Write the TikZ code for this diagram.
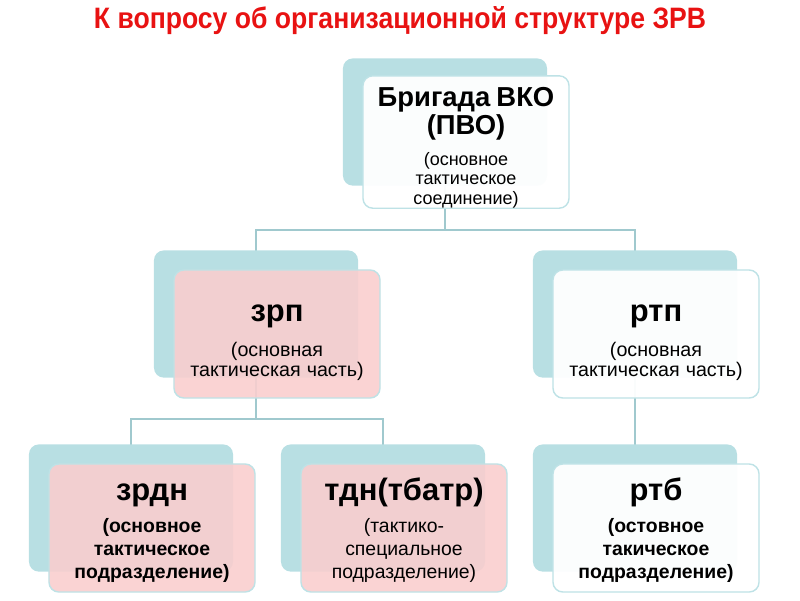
\documentclass[tikz,border=0pt]{standalone}
\usepackage{fontspec}
\setmainfont{Liberation Sans}
\newfontfamily\titlefont[FakeStretch=0.9]{Liberation Sans}
\definecolor{orgTeal}{RGB}{184,223,227}
\definecolor{orgEdge}{RGB}{190,226,230}
\definecolor{orgPink}{RGB}{249,206,206}
\definecolor{orgLine}{RGB}{160,201,206}
\definecolor{orgRed}{RGB}{232,18,18}
\usepackage{tikz}
\usetikzlibrary{positioning,calc,backgrounds}

\begin{document}
\begin{tikzpicture}[x=0.025cm, y=-0.025cm,
    every node/.style={font=\fontsize{13}{14}\selectfont},
    backbox/.style={fill=orgTeal, rounded corners=7pt, minimum width=5.1cm, minimum height=3.18cm, inner sep=0pt},
    unitbox/.style={draw=orgEdge, line width=1pt, fill opacity=0.9, text opacity=1, rounded corners=7pt,
      minimum width=5.15cm, minimum height=3.2cm, text width=5.1cm, align=center, inner sep=0pt},
    conn/.style={draw=orgLine, line width=1.2pt}]
  \useasboundingbox (0,0) rectangle (800,600);
  % Title
  \node[text=orgRed, font=\titlefont\bfseries\fontsize{21}{24}\selectfont] (title) at (400,21)
    {К вопросу об организационной структуре ЗРВ};
  % Brigade
  \node[backbox] (bkobg) at (445,122) {};
  \node[unitbox, fill=white, fill opacity=0.95] (bko) at (466,142)
    {\fontsize{19.5}{19.5}\selectfont\bfseries\rule{0pt}{22pt}Бригада ВКО\\(ПВО)\par\vspace{8pt}
     \fontsize{12.8}{14}\selectfont\mdseries (основное\\тактическое\\соединение)\par};
  % Regiments
  \node[backbox] (zrpbg) at (256,314) {};
  \node[unitbox, fill=orgPink] (zrp) at (277,334)
    {\fontsize{22}{24}\selectfont\bfseries\rule{0pt}{24pt}зрп\par\vspace{9pt}
     \fontsize{14}{14.5}\selectfont\mdseries (основная\\тактическая часть)\par};
  \node[backbox] (rtpbg) at (635,314) {};
  \node[unitbox, fill=white, fill opacity=0.95] (rtp) at (656,334)
    {\fontsize{22}{24}\selectfont\bfseries\rule{0pt}{24pt}ртп\par\vspace{9pt}
     \fontsize{14}{14.5}\selectfont\mdseries (основная\\тактическая часть)\par};
  % Battalions
  \node[backbox] (zrdnbg) at (131,508) {};
  \node[unitbox, fill=orgPink] (zrdn) at (152,528)
    {\fontsize{22}{24}\selectfont\bfseries\rule{0pt}{19pt}зрдн\par\vspace{7pt}
     \fontsize{13.8}{16.3}\selectfont (основное\\тактическое\\подразделение)\par};
  \node[backbox] (tdnbg) at (383,508) {};
  \node[unitbox, fill=orgPink] (tdn) at (404,528)
    {\fontsize{22}{24}\selectfont\bfseries\rule{0pt}{19pt}тдн(тбатр)\par\vspace{7pt}
     \fontsize{13.8}{16.3}\selectfont\mdseries (тактико-\\специальное\\подразделение)\par};
  \node[backbox] (rtbbg) at (635,508) {};
  \node[unitbox, fill=white, fill opacity=0.95] (rtb) at (656,528)
    {\fontsize{22}{24}\selectfont\bfseries\rule{0pt}{19pt}ртб\par\vspace{7pt}
     \fontsize{13.8}{16.3}\selectfont (остовное\\такическое\\подразделение)\par};
  % Connectors
  \begin{scope}[on background layer]
    \coordinate (j1) at (bkobg |- 0,230);
    \coordinate (j2) at (zrpbg |- 0,419);
    \draw[conn] (bkobg.center) -- (j1) -| (zrpbg.center);
    \draw[conn] (j1) -| (rtpbg.center);
    \draw[conn] (zrpbg.center) -- (j2) -| (zrdnbg.center);
    \draw[conn] (j2) -| (tdnbg.center);
    \draw[conn] (rtpbg.center) -- (rtbbg.center);
  \end{scope}
\end{tikzpicture}
\end{document}
